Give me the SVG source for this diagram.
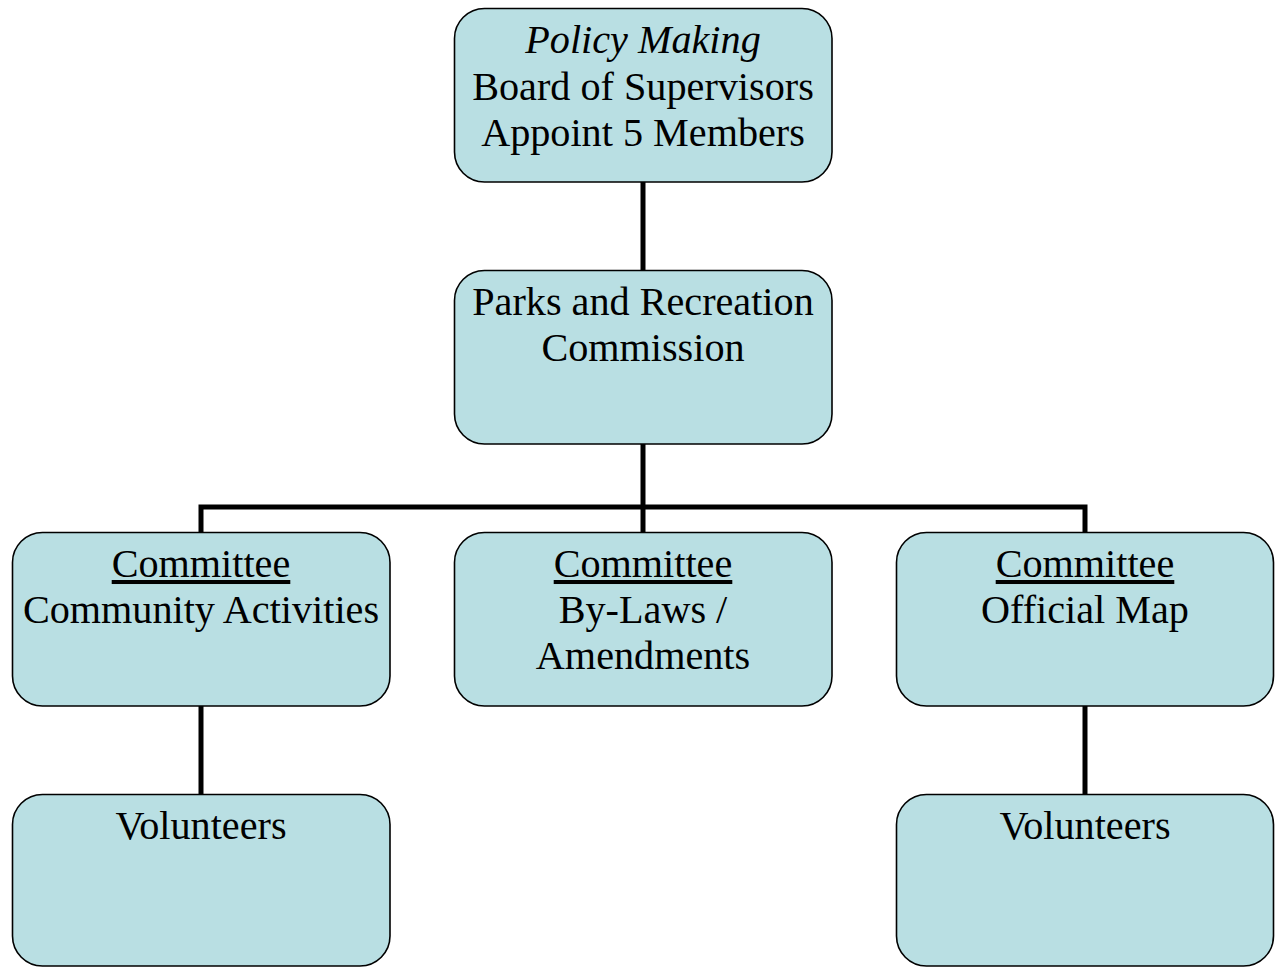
<svg xmlns="http://www.w3.org/2000/svg" width="1275" height="967" viewBox="0 0 1275 967">
<style>
.box{fill:#b9dfe3;stroke:#000;stroke-width:1.6}
.t{font-family:"Liberation Serif","Times New Roman",serif;font-size:40.2px;fill:#000;text-anchor:middle}
.c{fill:none;stroke:#000;stroke-width:5}
</style>
<rect width="1275" height="967" fill="#fff"/>
<g id="connectors">
<line class="c" x1="643" y1="182" x2="643" y2="270"/>
<line class="c" x1="643" y1="444" x2="643" y2="532"/>
<polyline class="c" points="201,532 201,507 1085,507 1085,532"/>
<line class="c" x1="201" y1="706" x2="201" y2="794"/>
<line class="c" x1="1085" y1="706" x2="1085" y2="794"/>
</g>
<g id="board">
<rect class="box" x="454.5" y="8.5" width="377.5" height="173.5" rx="30"/>
<text class="t" x="643" y="53" font-style="italic">Policy Making</text>
<text class="t" x="643" y="100">Board of Supervisors</text>
<text class="t" x="643" y="146">Appoint 5 Members</text>
</g>
<g id="commission">
<rect class="box" x="454.5" y="270.5" width="377.5" height="173.5" rx="30"/>
<text class="t" x="643" y="315">Parks and Recreation</text>
<text class="t" x="643" y="361">Commission</text>
</g>
<g id="committee-community">
<rect class="box" x="12.5" y="532.5" width="377.5" height="173.5" rx="30"/>
<text class="t" x="201" y="577" text-decoration="underline">Committee</text>
<text class="t" x="201" y="623">Community Activities</text>
</g>
<g id="committee-bylaws">
<rect class="box" x="454.5" y="532.5" width="377.5" height="173.5" rx="30"/>
<text class="t" x="643" y="577" text-decoration="underline">Committee</text>
<text class="t" x="643" y="623">By-Laws /</text>
<text class="t" x="643" y="669">Amendments</text>
</g>
<g id="committee-map">
<rect class="box" x="896.5" y="532.5" width="377" height="173.5" rx="30"/>
<text class="t" x="1085" y="577" text-decoration="underline">Committee</text>
<text class="t" x="1085" y="623">Official Map</text>
</g>
<g id="volunteers-left">
<rect class="box" x="12.5" y="794.5" width="377.5" height="171.5" rx="30"/>
<text class="t" x="201" y="839">Volunteers</text>
</g>
<g id="volunteers-right">
<rect class="box" x="896.5" y="794.5" width="377" height="171.5" rx="30"/>
<text class="t" x="1085" y="839">Volunteers</text>
</g>
</svg>
